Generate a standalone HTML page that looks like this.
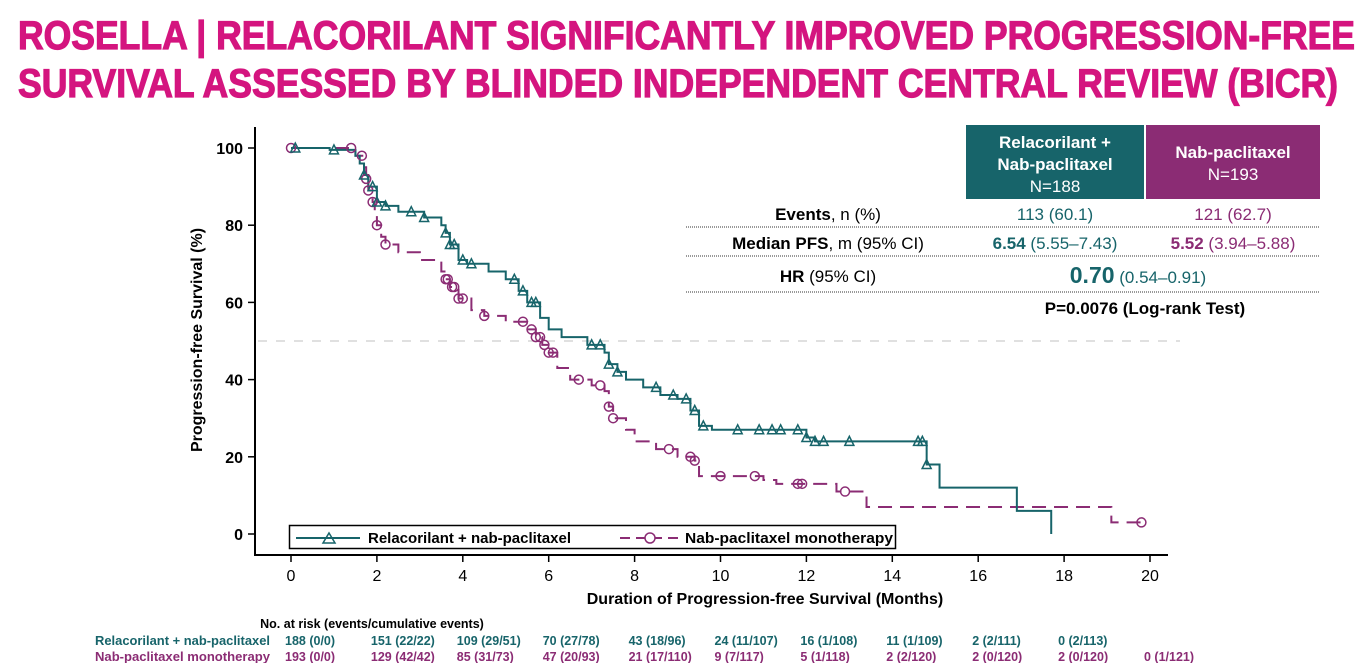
<!DOCTYPE html>
<html><head><meta charset="utf-8"><style>
html,body{margin:0;padding:0;background:#fff;}
svg{display:block;font-family:"Liberation Sans",sans-serif;}
</style></head><body>
<svg id="c" width="1367" height="663" viewBox="0 0 1367 663" xmlns="http://www.w3.org/2000/svg">
<g fill="#d4157f" stroke="#d4157f" stroke-width="1.2" font-weight="bold" font-size="40">
<text x="18" y="49" textLength="1337" lengthAdjust="spacingAndGlyphs">ROSELLA | RELACORILANT SIGNIFICANTLY IMPROVED PROGRESSION-FREE</text>
<text x="18" y="97" textLength="1320" lengthAdjust="spacingAndGlyphs">SURVIVAL ASSESSED BY BLINDED INDEPENDENT CENTRAL REVIEW (BICR)</text>
</g>
<g id="axes"></g>
<g id="series"></g>
<g>
<rect x="966" y="125" width="178" height="74" fill="#17646a"/>
<rect x="1146" y="125" width="174" height="74" fill="#8b2c74"/>
<g fill="#fff" text-anchor="middle" font-size="17">
<text x="1055" y="148" font-weight="bold">Relacorilant +</text>
<text x="1055" y="170" font-weight="bold">Nab-paclitaxel</text>
<text x="1055" y="192">N=188</text>
<text x="1233" y="158" font-weight="bold">Nab-paclitaxel</text>
<text x="1233" y="180">N=193</text>
</g>
<g font-size="17" text-anchor="middle">
<text x="828" y="220"><tspan font-weight="bold">Events</tspan>, n (%)</text>
<text x="1055" y="220" fill="#17646a">113 (60.1)</text>
<text x="1233" y="220" fill="#8b2c74">121 (62.7)</text>
<text x="828" y="249"><tspan font-weight="bold">Median PFS</tspan>, m (95% CI)</text>
<text x="1055" y="249" fill="#17646a"><tspan font-weight="bold">6.54</tspan> (5.55–7.43)</text>
<text x="1233" y="249" fill="#8b2c74"><tspan font-weight="bold">5.52</tspan> (3.94–5.88)</text>
<text x="828" y="282"><tspan font-weight="bold">HR</tspan> (95% CI)</text>
<text x="1138" y="283" fill="#17646a"><tspan font-weight="bold" font-size="23">0.70</tspan> (0.54–0.91)</text>
<text x="1145" y="314" font-weight="bold">P=0.0076 (Log-rank Test)</text>
</g>
<g stroke="#333" stroke-width="1" stroke-dasharray="1,1">
<line x1="686" y1="227" x2="1320" y2="227"/><line x1="686" y1="256" x2="1320" y2="256"/><line x1="686" y1="292" x2="1320" y2="292"/>
</g>
</g>
<g>
<rect x="289.5" y="525.5" width="606" height="23" fill="#fff" stroke="#000" stroke-width="1.5"/>
<line x1="296" y1="538" x2="360" y2="538" stroke="#17646a" stroke-width="2"/>
<path d="M323,543 L329,533 L335,543 Z" fill="none" stroke="#17646a" stroke-width="1.5"/>
<text x="368" y="543" font-size="15" font-weight="bold">Relacorilant + nab-paclitaxel</text>
<line x1="620" y1="538" x2="680" y2="538" stroke="#8b2c74" stroke-width="2" stroke-dasharray="10,6"/>
<circle cx="650" cy="538" r="5" fill="#fff" stroke="#8b2c74" stroke-width="1.5"/>
<text x="685" y="543" font-size="15" font-weight="bold" textLength="208" lengthAdjust="spacingAndGlyphs">Nab-paclitaxel monotherapy</text>
</g>
<g font-weight="bold" font-size="12.5">
<text x="372" y="628" text-anchor="middle">No. at risk (events/cumulative events)</text>
<text x="95" y="645" fill="#17646a" textLength="175" lengthAdjust="spacingAndGlyphs">Relacorilant + nab-paclitaxel</text>
<text x="95" y="661" fill="#8b2c74" textLength="175" lengthAdjust="spacingAndGlyphs">Nab-paclitaxel monotherapy</text>
<g id="risk"></g>
</g>
</svg>
<script>
const xTicks=[0,2,4,6,8,10,12,14,16,18,20];
const yTicks=[0,20,40,60,80,100];
const relaT=[0,0.9,1.5,1.6,1.7,1.8,2.0,2.2,2.5,3.1,3.5,3.6,3.7,3.9,4.1,4.6,5.0,5.3,5.5,5.8,6.0,6.3,6.9,7.3,7.4,7.6,7.8,8.2,8.6,9.0,9.3,9.5,9.8,12.0,12.2,14.8,15.1,16.9,17.7];
const relaS=[100,99.5,98,96,93,90,86,85,83.5,82,80,78,75,71,70,68,66,63,60,56,53,51,49,47,44,42,40,38,36,35,32,28,27,25,24,18,12,6,0];
const relaCens=[0.1,1.0,1.7,1.9,2.0,2.2,2.8,3.1,3.6,3.7,3.8,4.0,4.2,5.2,5.4,5.6,5.7,7.0,7.2,7.4,7.6,8.5,8.9,9.2,9.4,9.6,10.4,10.9,11.2,11.4,11.8,12.0,12.2,12.4,13.0,14.6,14.7,14.8];
const nabT=[0,1.5,1.7,1.75,1.8,1.9,1.95,2.0,2.1,2.2,2.5,3.0,3.5,3.6,3.7,3.9,4.2,4.5,5.0,5.5,5.7,5.85,6.0,6.2,6.5,7.0,7.3,7.4,7.5,7.8,8.0,8.5,9.0,9.4,9.5,11.0,11.3,12.7,13.4,19.1];
const nabS=[100,98,95,92,89,86,83,80,77,75,73,71,68,66,64,61,58,56.5,55,53,51,49,47,43,40,38.5,37,33,30,27,24,22,20,19,15,14,13,11,7,3];
const nabCens=[0,1.4,1.65,1.75,1.8,1.9,2.0,2.2,3.6,3.65,3.75,3.8,3.9,4.0,4.5,5.4,5.6,5.7,5.8,5.9,6.0,6.1,6.7,7.2,7.4,7.5,8.8,9.3,9.4,10.0,10.8,11.8,11.9,12.9,19.8];
const relaEnd=17.7, nabEnd=19.8;
const riskT=[0,2,4,6,8,10,12,14,16,18,20];
const riskRela=["188 (0/0)","151 (22/22)","109 (29/51)","70 (27/78)","43 (18/96)","24 (11/107)","16 (1/108)","11 (1/109)","2 (2/111)","0 (2/113)",""];
const riskNab=["193 (0/0)","129 (42/42)","85 (31/73)","47 (20/93)","21 (17/110)","9 (7/117)","5 (1/118)","2 (2/120)","2 (0/120)","2 (0/120)","0 (1/121)"];

const NS="http://www.w3.org/2000/svg";
const X=t=>291+t*42.95, Y=s=>534-s*3.86;
function mk(tag,attrs,parent,txt){const e=document.createElementNS(NS,tag);for(const k in attrs)e.setAttribute(k,attrs[k]);if(txt!==undefined)e.textContent=txt;parent.appendChild(e);return e;}
const ax=document.getElementById('axes');
mk('line',{x1:255,y1:127,x2:255,y2:556,stroke:'#000','stroke-width':2},ax);
mk('line',{x1:254,y1:555,x2:1168,y2:555,stroke:'#000','stroke-width':2},ax);
mk('line',{x1:258,y1:Y(50),x2:1180,y2:Y(50),stroke:'#d6d6d6','stroke-width':1.5,'stroke-dasharray':'9,9'},ax);
yTicks.forEach(v=>{
  const l=mk('line',{x1:248,y1:Y(v),x2:255,y2:Y(v),stroke:'#000','stroke-width':1.5},ax);
  
  
  const t=mk('text',{x:243,y:Y(v)+6,'text-anchor':'end','font-size':16,'font-weight':'bold'},ax,String(v));
  
  
});
xTicks.forEach(v=>{
  const l=mk('line',{x1:X(v),y1:555,x2:X(v),y2:562,stroke:'#000','stroke-width':1.5},ax);
  
  
  const t=mk('text',{x:X(v),y:581,'text-anchor':'middle','font-size':16},ax,String(v));
  
  
});
const xt=mk('text',{x:765,y:604,'text-anchor':'middle','font-size':16,'font-weight':'bold'},ax,'Duration of Progression-free Survival (Months)');


const yt=mk('text',{x:0,y:0,transform:'translate(202,340) rotate(-90)','text-anchor':'middle','font-size':16,'font-weight':'bold'},ax,'Progression-free Survival (%)');



const sg=document.getElementById('series');
function stepPath(T,S,end){let d='M'+X(T[0])+','+Y(S[0]);for(let i=1;i<T.length;i++){d+=' H'+X(T[i])+' V'+Y(S[i]);}d+=' H'+X(end);return d;}
function sAt(T,S,t){let s=S[0];for(let i=0;i<T.length;i++){if(T[i]<=t)s=S[i];}return s;}
const pn=mk('path',{d:stepPath(nabT,nabS,nabEnd),fill:'none',stroke:'#8b2c74','stroke-width':2,'stroke-dasharray':'14,8'},sg);


const pr=mk('path',{d:stepPath(relaT,relaS,relaEnd),fill:'none',stroke:'#17646a','stroke-width':2},sg);


nabCens.forEach(t=>{
  const c=mk('circle',{cx:X(t),cy:Y(sAt(nabT,nabS,t)),r:4.5,fill:'none',stroke:'#8b2c74','stroke-width':1.5},sg);
  
  
});
relaCens.forEach(t=>{
  const x=X(t),y=Y(sAt(relaT,relaS,t));
  const p=mk('path',{d:`M${x-4.5},${y+4} L${x},${y-5} L${x+4.5},${y+4} Z`,fill:'none',stroke:'#17646a','stroke-width':1.5},sg);
  
  
});
const rg=document.getElementById('risk');
riskT.forEach((t,i)=>{
  if(riskRela[i]){const a=mk('text',{x:X(t)-6,y:645,fill:'#17646a'},rg,riskRela[i]);
    
    }
  if(riskNab[i]){const b=mk('text',{x:X(t)-6,y:661,fill:'#8b2c74'},rg,riskNab[i]);
    
    }
});
</script>
</body></html>
